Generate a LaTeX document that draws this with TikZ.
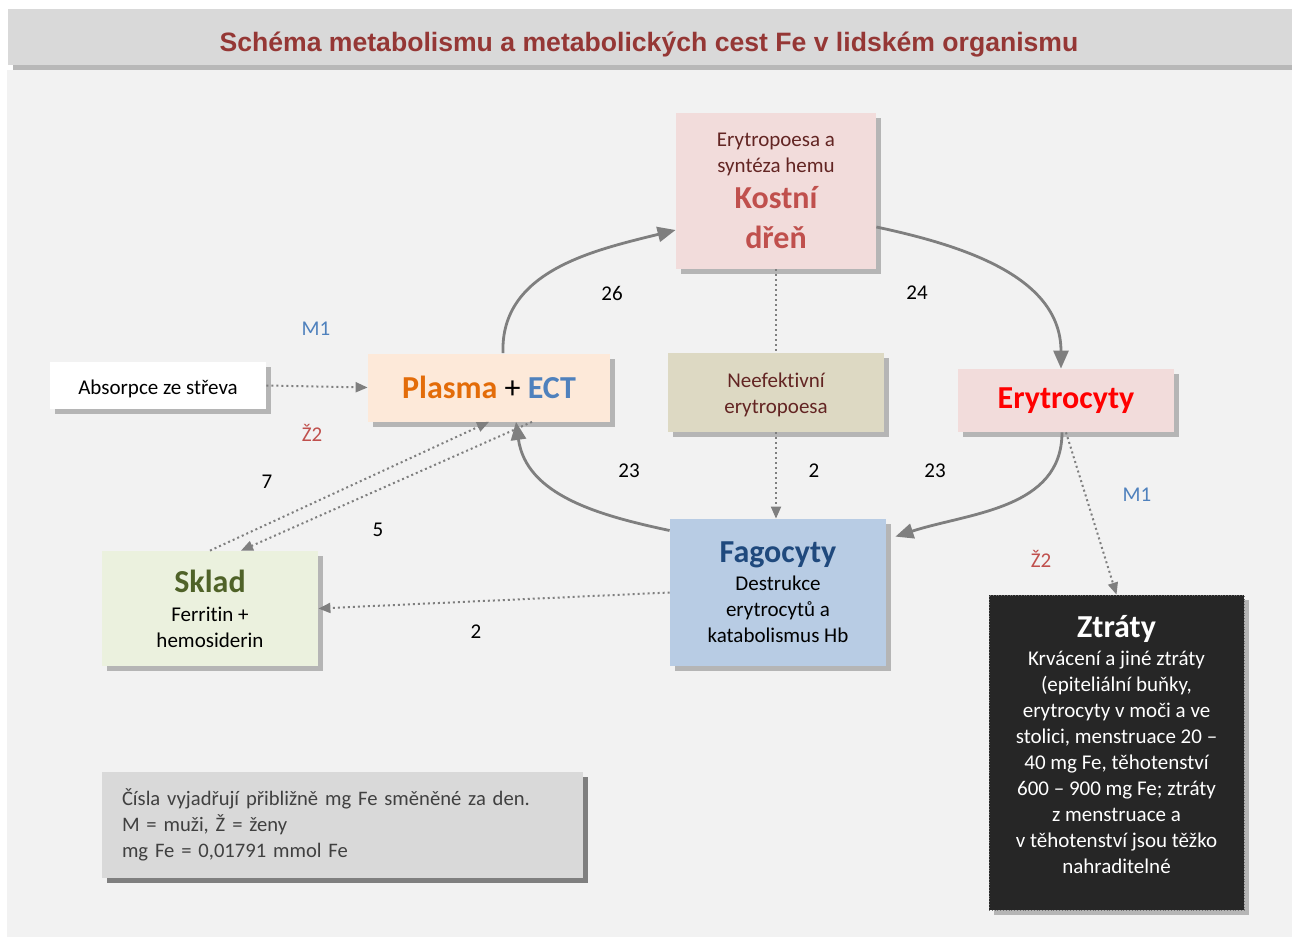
\documentclass[tikz,border=0pt]{standalone}
\usepackage{fontspec}
\setmainfont{Carlito}[Ligatures=NoCommon]
\newfontfamily\titlefont{Liberation Sans}
\usetikzlibrary{arrows.meta,calc,shadows}

\definecolor{bgc}{HTML}{F2F2F2}
\definecolor{bandc}{HTML}{D9D9D9}
\definecolor{bandshadow}{HTML}{B8B8B8}
\definecolor{shadowc}{HTML}{B5B5B5}
\definecolor{legshadow}{HTML}{7F7F7F}
\definecolor{titlec}{HTML}{953735}
\definecolor{arrowc}{HTML}{7F7F7F}
\definecolor{kostfill}{HTML}{F2DCDB}
\definecolor{kostdark}{HTML}{632523}
\definecolor{kostred}{HTML}{C0504D}
\definecolor{plasmafill}{HTML}{FDE9D9}
\definecolor{plasmaor}{HTML}{E36C09}
\definecolor{ectblue}{HTML}{4F81BD}
\definecolor{neefill}{HTML}{DDD9C3}
\definecolor{fagfill}{HTML}{B8CCE4}
\definecolor{fagblue}{HTML}{1F497D}
\definecolor{skladfill}{HTML}{EBF1DE}
\definecolor{skladgreen}{HTML}{4F6228}
\definecolor{ztrfill}{HTML}{262626}
\definecolor{legtext}{HTML}{404040}

\newcommand\headfont{\bfseries\fontsize{16}{19.5}\selectfont}

\begin{document}
\begin{tikzpicture}[x=0.5pt,y=-0.5pt,
	every node/.style={font=\fontsize{10.5}{13}\selectfont, inner sep=0pt},
	box/.style={rectangle, align=center, general shadow={fill=#1, shadow xshift=2.5pt, shadow yshift=-2.5pt}},
	box/.default=shadowc,
	flow/.style={draw=arrowc, line width=1.4pt, -{Triangle[length=9pt,width=7.5pt]}},
	dots/.style={draw=arrowc, line width=1pt, dash pattern=on 1pt off 1.5pt, -{Triangle[length=6pt,width=5pt]}},
	]
	\useasboundingbox (0,0) rectangle (1292,937);
	\fill[bgc] (7,70) rectangle (1292,937);
	\node[box=bandshadow, fill=bandc, minimum width=642pt, minimum height=28pt] (band) at (650,37) {};
	\node[anchor=base, text=titlec, font=\titlefont\bfseries\fontsize{13.3}{16}\selectfont] (title) at (649,52) {Schéma metabolismu a metabolických cest Fe v lidském organismu};

	% boxes
	\node[box, fill=kostfill, minimum width=100pt, minimum height=78pt, text=kostdark] (kostni) at (776,191)
		{Erytropoesa a\\syntéza hemu\\[5pt]{\headfont\color{kostred}Kostní}\\[7pt]{\headfont\color{kostred}dřeň}};
	\node[box, fill=plasmafill, minimum width=121pt, minimum height=34pt] (plasma) at (489,387.5)
		{\headfont{\color{plasmaor}Plasma} {\mdseries+} {\color{ectblue}ECT}};
	\node[box, fill=white, minimum width=108pt, minimum height=23.5pt] (absorpce) at (158,385.5) {Absorpce ze střeva\\[-14.5pt]};
	\node[box, fill=neefill, minimum width=108pt, minimum height=39.5pt, text=kostdark] (neefekt) at (776,392.5)
		{Neefektivní\\erytropoesa\\[-14pt]};
	\node[box, fill=kostfill, minimum width=108pt, minimum height=31.5pt, text=red] (erytro) at (1066,400.5)
		{\headfont Erytrocyty};
	\node[box, fill=fagfill, minimum width=108pt, minimum height=73.5pt] (fagocyty) at (778,592.5)
		{{\headfont\color{fagblue}Fagocyty}\\[1pt]Destrukce\\erytrocytů a\\katabolismus Hb};
	\node[box, fill=skladfill, minimum width=108pt, minimum height=57.5pt] (sklad) at (210,608.5)
		{{\headfont\color{skladgreen}Sklad}\\[1.5pt]Ferritin +\\hemosiderin};
	\node[box, fill=ztrfill, draw=black!55, densely dotted, line width=0.4pt, minimum width=127.5pt, minimum height=157.5pt, text=white] (ztraty) at (1116.5,752.5)
		{{\headfont Ztráty}\\[1pt]Krvácení a jiné ztráty\\(epiteliální buňky,\\erytrocyty v moči a ve\\stolici, menstruace 20 –\\40 mg Fe, těhotenství\\600 – 900 mg Fe; ztráty\\z menstruace a\\v těhotenství jsou těžko\\nahraditelné\\[-5pt]};
	\node[box=legshadow, fill=bandc, minimum width=240.5pt, minimum height=53pt, text width=220.5pt, align=left, text=legtext, font=\fontsize{10.3}{13}\selectfont] (legend) at (342.5,825)
		{Čísla vyjadřují přibližně mg Fe směněné za den.\\M = muži, Ž = ženy\\mg Fe = 0,01791 mmol Fe};

	% cycle
	\draw[flow] ($(plasma.north)+(14,0)$) to[out=92, in=194] ($(kostni.west)+(0,39)$);
	\draw[flow] ($(kostni.east)+(0,36)$) to[out=-12, in=90] ($(erytro.north)+(-5,0)$);
	\draw[flow] ($(erytro.south)+(-4,0)$) to[out=-90, in=18] ($(fagocyty.north east)+(9,18)$);
	\draw[flow] ($(fagocyty.west)+(0,-62)$) to[out=168, in=-82] ($(plasma.south)+(27,0)$);

	% dotted flows
	\draw[dots, -] (kostni.south) -- (neefekt.north);
	\draw[dots] (neefekt.south) -- (neefekt.south |- fagocyty.north);
	\draw[dots] (absorpce.east) -- (plasma.west);
	\draw[dots] (sklad.north) -- (plasma.south);
	\draw[dots] ($(plasma.south)+(43,0)$) -- ($(sklad.north)+(31,0)$);
	\draw[dots] (fagocyty.west) -- (sklad.east);
	\draw[dots] (erytro.south) -- (ztraty.north);

	% numbers
	\node (n26) at (612,293) {26};
	\node (n24) at (917,293) {24};
	\node (n23a) at (629,471) {23};
	\node (n2a) at (814,471) {2};
	\node (n23b) at (935,471) {23};
	\node (n7) at (267,482) {7};
	\node (n5) at (378,530) {5};
	\node (n2b) at (476,632) {2};
	\node[text=ectblue] (m1a) at (316,329) {M1};
	\node[text=kostred] (z2a) at (312,433) {Ž2};
	\node[text=ectblue] (m1b) at (1137,495) {M1};
	\node[text=kostred] (z2b) at (1041,559) {Ž2};
\end{tikzpicture}
\end{document}
